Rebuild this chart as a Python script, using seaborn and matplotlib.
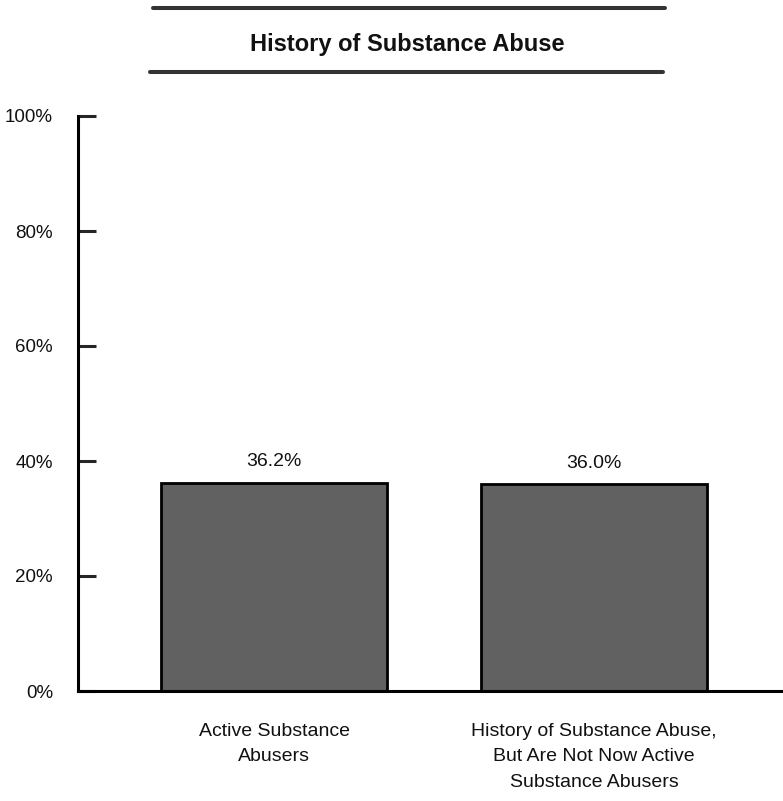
import matplotlib
matplotlib.use("Agg")
import matplotlib.pyplot as plt
import seaborn as sns
from matplotlib.lines import Line2D

# data
categories = [
    "Active Substance\nAbusers",
    "History of Substance Abuse,\nBut Are Not Now Active\nSubstance Abusers",
]
percent = [36.2, 36.0]
value_labels = ["36.2%", "36.0%"]
y_ticks = [0, 20, 40, 60, 80, 100]
title = "History of Substance Abuse"

sns.set_style("ticks")
plt.rcParams["font.family"] = ["Liberation Sans Narrow", "Liberation Sans", "DejaVu Sans"]

fig = plt.figure(figsize=(7.83, 8.01), dpi=100)
ax = fig.add_axes([78 / 783, 110 / 801, 1 - 78 / 783, 575 / 801])

sns.barplot(x=categories, y=percent, color="#616161", edgecolor="black",
            linewidth=2, width=0.706, saturation=1, ax=ax)

for i, (v, lab) in enumerate(zip(percent, value_labels)):
    ax.annotate(lab, (i, v), xytext=(0, 9), textcoords="offset points",
                ha="center", va="bottom", fontsize=14, color="#111111")

# category labels under the bars (tick labels ignore linespacing)
for i, cat in enumerate(categories):
    ax.annotate(cat, (i, 0), xytext=(0, -23), textcoords="offset points",
                ha="center", va="top", fontsize=14, color="#111111",
                linespacing=1.65, annotation_clip=False)

ax.set_xlim(-0.6125, 1.59)
ax.set_ylim(0, 100)
ax.set_yticks(y_ticks)
ax.set_yticklabels([f"{t}%" for t in y_ticks])
ax.set_xticks([])

ax.spines["top"].set_visible(False)
ax.spines["right"].set_visible(False)
for s in ["left", "bottom"]:
    ax.spines[s].set_linewidth(2.2)
    ax.spines[s].set_color("black")

ax.tick_params(axis="y", direction="in", length=13, width=2.2, pad=18,
               labelsize=13.5, labelcolor="#111111")
ax.set_xlabel("")
ax.set_ylabel("")

# title between two rules
fig.text(407 / 783, 1 - 45 / 801, title, ha="center", va="center",
         fontsize=17, fontweight="bold", color="#111111")
fig.add_artist(Line2D([153 / 783, 665 / 783], [1 - 8 / 801, 1 - 8 / 801],
                      color="#333333", linewidth=2.9))
fig.add_artist(Line2D([150 / 783, 663 / 783], [1 - 72 / 801, 1 - 72 / 801],
                      color="#333333", linewidth=2.9))

plt.savefig("out.png", dpi=100)
